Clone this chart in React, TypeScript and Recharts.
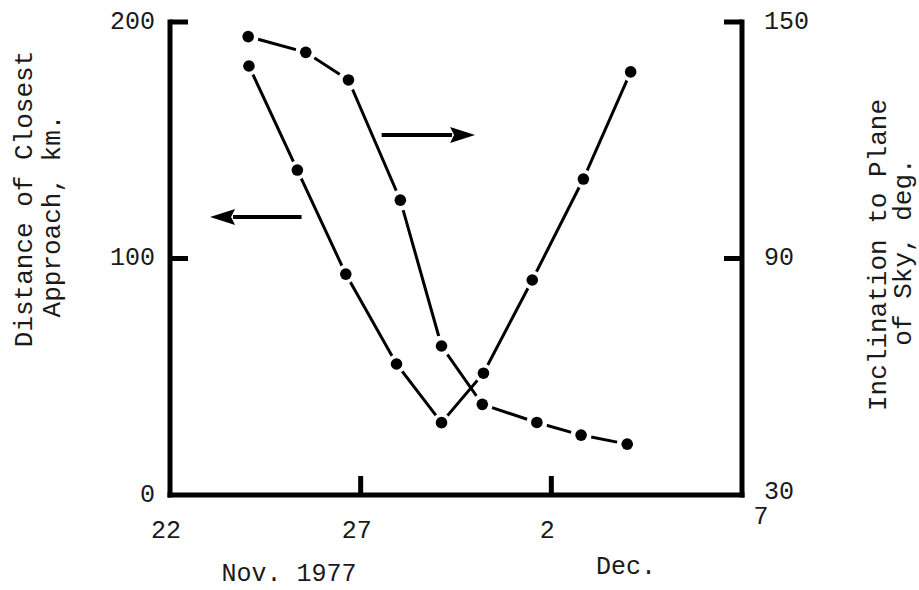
import React from 'react';
import { LineChart, Line, XAxis, YAxis, ReferenceLine } from 'recharts';

const FONT = '"Courier New", "Liberation Mono", monospace';
const INK = '#1a1a1a';

// X axis (days counted from 1 Nov 1977: Dec 2 = 32, Dec 7 = 37)
const xTicks = [22, 27, 32, 37];
const xTickLabels = ['22', '27', '2', '7'];
const leftTicks = [0, 100, 200];
const rightTicks = [30, 90, 150];

// Distance of closest approach, km (left axis)
const distanceDays = [24.07, 25.34, 26.61, 27.94, 29.12, 30.22, 31.5, 32.84, 34.08];
const distanceKm = [181.4, 137.4, 93.4, 55.4, 30.6, 51.5, 90.9, 133.6, 178.9];

// Inclination to plane of sky, deg (right axis)
const inclinationDays = [24.05, 25.56, 26.68, 28.04, 29.12, 30.19, 31.62, 32.78, 33.99];
const inclinationDeg = [146.3, 142.3, 135.3, 104.8, 67.8, 53.0, 48.4, 45.2, 42.9];

// Arrows pointing to the axis each curve belongs to (left-axis units)
const leftArrow = [{ x: 25.45, y: 117.5 }, { x: 23.05, y: 117.5 }];
const rightArrow = [{ x: 27.55, y: 152.2 }, { x: 30.0, y: 152.2 }];

const distanceData = distanceDays.map((d, i) => ({ day: d, km: distanceKm[i] }));
const inclinationData = inclinationDays.map((d, i) => ({ day: d, deg: inclinationDeg[i] }));

const textStyle = { fontFamily: FONT, fill: INK };

function XTick(props: any) {
  const { x, y, payload } = props;
  const i = xTicks.indexOf(payload.value);
  const inner = i > 0 && i < xTicks.length - 1;
  const last = i === xTicks.length - 1;
  return (
    <g>
      {inner && <line x1={x} y1={y} x2={x} y2={y - 19} stroke="#000" strokeWidth={5} />}
      <text
        x={last ? x + 19 : x - 4}
        y={last ? y + 22 : y + 36}
        textAnchor="middle"
        dominantBaseline="central"
        fontSize={25}
        style={textStyle}
      >
        {xTickLabels[i]}
      </text>
    </g>
  );
}

function LeftTick(props: any) {
  const { x, y, payload } = props;
  const bottom = payload.value === leftTicks[0];
  return (
    <g>
      {!bottom && <line x1={x} y1={y} x2={x + 18} y2={y} stroke="#000" strokeWidth={5} />}
      <text x={x - 15} y={y} textAnchor="end" dominantBaseline="central" fontSize={25} style={textStyle}>
        {payload.value}
      </text>
    </g>
  );
}

function RightTick(props: any) {
  const { x, y, payload } = props;
  const bottom = payload.value === rightTicks[0];
  return (
    <g>
      {!bottom && <line x1={x} y1={y} x2={x - 18} y2={y} stroke="#000" strokeWidth={5} />}
      <text x={x + 22} y={bottom ? y - 3 : y} textAnchor="start" dominantBaseline="central" fontSize={25} style={textStyle}>
        {payload.value}
      </text>
    </g>
  );
}

function makeDot(halo: number) {
  return (props: any) => {
    const { cx, cy, index } = props;
    return (
      <g key={`dot-${index}`}>
        <circle cx={cx} cy={cy} r={halo} fill="#fff" />
        <circle cx={cx} cy={cy} r={5.8} fill="#000" />
      </g>
    );
  };
}

function Arrow(props: any) {
  const { x1, y1, x2, y2 } = props;
  const dir = x2 > x1 ? 1 : -1;
  const head = 25;
  const hh = 8;
  const bx = x2 - dir * head;
  return (
    <g>
      <line x1={x1} y1={y1} x2={bx + dir * 2} y2={y2} stroke="#000" strokeWidth={4} />
      <polygon points={`${x2},${y2} ${bx},${y2 - hh} ${bx + dir * 4},${y2} ${bx},${y2 + hh}`} fill="#000" />
    </g>
  );
}

function LeftTitle() {
  return (
    <g style={textStyle}>
      <text x={25} y={199} transform="rotate(-90 25 199)" textAnchor="middle" dominantBaseline="central" fontSize={26}>
        Distance of Closest
      </text>
      <text x={53} y={216} transform="rotate(-90 53 216)" textAnchor="middle" dominantBaseline="central" fontSize={26}>
        Approach, km.
      </text>
    </g>
  );
}

function RightTitle() {
  return (
    <g style={textStyle}>
      <text x={879} y={255} transform="rotate(-90 879 255)" textAnchor="middle" dominantBaseline="central" fontSize={26}>
        Inclination to Plane
      </text>
      <text x={904} y={252} transform="rotate(-90 904 252)" textAnchor="middle" dominantBaseline="central" fontSize={26}>
        of Sky, deg.
      </text>
    </g>
  );
}

function BottomTitle() {
  return (
    <g style={textStyle}>
      <text x={289} y={574} textAnchor="middle" dominantBaseline="central" fontSize={25}>
        Nov. 1977
      </text>
      <text x={626} y={567} textAnchor="middle" dominantBaseline="central" fontSize={25}>
        Dec.
      </text>
    </g>
  );
}

const axisLineStyle = { stroke: '#000', strokeWidth: 5, strokeLinecap: 'square' as const };

export default function App() {
  return (
    <div style={{ position: 'absolute', left: 0, top: 0, width: 919, height: 590, background: '#fff' }}>
      <LineChart width={919} height={590} margin={{ top: 22, right: 117, bottom: 55, left: 110 }}>
        <XAxis
          dataKey="day"
          type="number"
          domain={[22, 37]}
          ticks={xTicks}
          allowDataOverflow
          axisLine={axisLineStyle}
          tickLine={false}
          tickSize={0}
          tickMargin={0}
          height={40}
          tick={<XTick />}
          interval={0}
          label={{ content: <BottomTitle /> }}
        />
        <YAxis
          yAxisId="left"
          orientation="left"
          type="number"
          domain={[0, 200]}
          ticks={leftTicks}
          axisLine={axisLineStyle}
          tickLine={false}
          tickSize={0}
          tickMargin={0}
          width={60}
          tick={<LeftTick />}
          interval={0}
          label={{ content: <LeftTitle /> }}
        />
        <YAxis
          yAxisId="right"
          orientation="right"
          type="number"
          domain={[30, 150]}
          ticks={rightTicks}
          axisLine={axisLineStyle}
          tickLine={false}
          tickSize={0}
          tickMargin={0}
          width={60}
          tick={<RightTick />}
          interval={0}
          label={{ content: <RightTitle /> }}
        />
        <ReferenceLine yAxisId="left" segment={leftArrow} shape={(p: any) => <Arrow {...p} />} />
        <ReferenceLine yAxisId="left" segment={rightArrow} shape={(p: any) => <Arrow {...p} />} />
        <Line
          yAxisId="left"
          data={distanceData}
          dataKey="km"
          type="linear"
          stroke="#000"
          strokeWidth={3}
          dot={makeDot(9.5)}
          activeDot={false}
          isAnimationActive={false}
        />
        <Line
          yAxisId="right"
          data={inclinationData}
          dataKey="deg"
          type="linear"
          stroke="#000"
          strokeWidth={3}
          dot={makeDot(10.5)}
          activeDot={false}
          isAnimationActive={false}
        />
      </LineChart>
    </div>
  );
}
